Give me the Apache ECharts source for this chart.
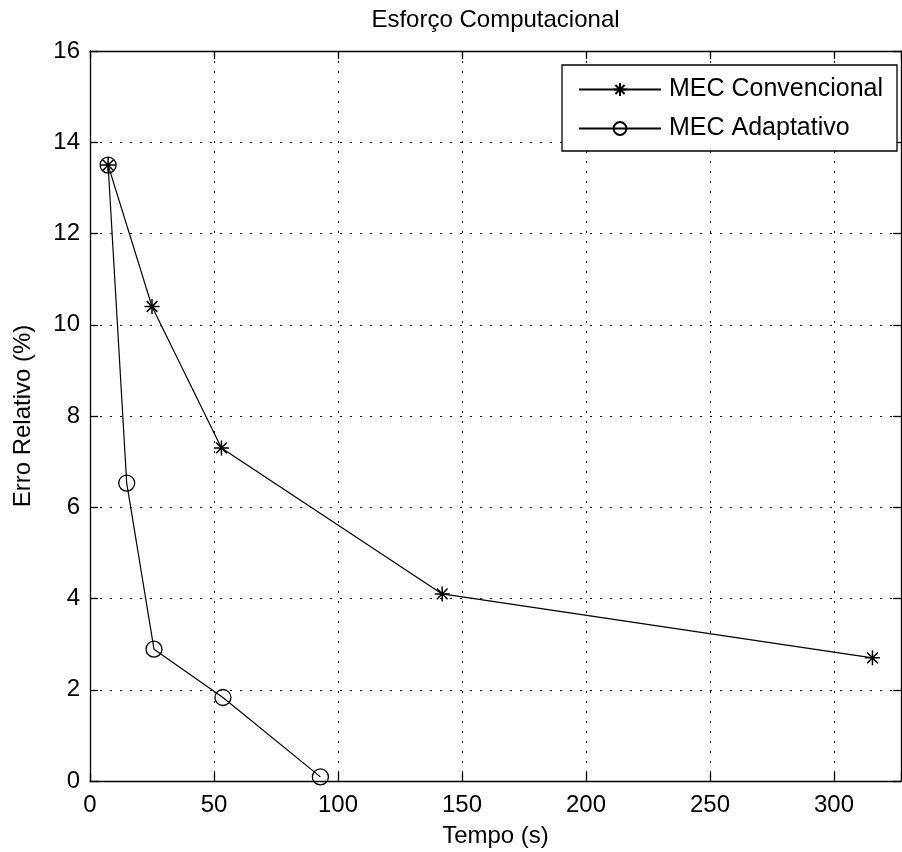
<!DOCTYPE html>
<html>
<head>
<meta charset="utf-8">
<script src="https://cdn.jsdelivr.net/npm/echarts@6/dist/echarts.min.js"></script>
<style>html,body{margin:0;padding:0;background:#fff}#c{width:902px;height:852px}</style>
</head>
<body>
<div id="c"></div>
<script>
var titleText = 'Esforço Computacional';
var xName = 'Tempo (s)';
var yName = 'Erro Relativo (%)';
var seriesNames = ['MEC Convencional', 'MEC Adaptativo'];
var convX = [7.3, 25, 53, 142, 315.5];
var convY = [13.5, 10.4, 7.3, 4.1, 2.7];
var adapX = [7.3, 14.8, 25.8, 53.6, 92.9];
var adapY = [13.5, 6.53, 2.89, 1.83, 0.09];
var xTicks = [0, 50, 100, 150, 200, 250, 300];
var yTicks = [0, 2, 4, 6, 8, 10, 12, 14, 16];
var xMin = 0, xMax = 327, yMin = 0, yMax = 16;

function pairs(xs, ys) { return xs.map(function (x, i) { return [x, ys[i]]; }); }

var FONT = 'Liberation Sans, Arial, sans-serif';
var FS = 24;
var starPath = 'path://M0,-7L0,7M-7,0L7,0M-5,-5L5,5M-5,5L5,-5';

var chart = echarts.init(document.getElementById('c'), null, {renderer: 'canvas'});
var axisBase = {
  type: 'value',
  axisLine: {show: true, onZero: false, lineStyle: {color: '#000', width: 1.3}},
  axisTick: {show: true, inside: true, length: 8, lineStyle: {color: '#000', width: 1.3}},
};
chart.setOption({
  animation: false,
  backgroundColor: '#fff',
  grid: {left: 90, top: 51, right: 1, bottom: 71, containLabel: false, outerBoundsMode: 'none'},
  legend: {
    orient: 'vertical', right: 5, top: 65,
    data: seriesNames,
    backgroundColor: '#fff', borderColor: '#000', borderWidth: 1.3,
    padding: [12, 14, 10, 16],
    itemWidth: 82, itemHeight: 16, itemGap: 14,
    textStyle: {fontFamily: FONT, fontSize: 25, color: '#000', padding: [0, 0, 0, 3]}
  },
  xAxis: [
    Object.assign({}, axisBase, {
      min: xMin, max: xMax, interval: 50, position: 'bottom',
      name: xName, nameLocation: 'middle', nameGap: 43,
      nameTextStyle: {fontFamily: FONT, fontSize: FS, color: '#000'},
      axisLabel: {fontFamily: FONT, fontSize: FS, color: '#000', margin: 12,
        formatter: function (v) { return xTicks.indexOf(v) >= 0 ? String(v) : ''; }},
      splitLine: {show: true, lineStyle: {color: '#000', width: 1, type: [2, 8]}}
    }),
    Object.assign({}, axisBase, {
      min: xMin, max: xMax, interval: 50, position: 'top',
      name: titleText, nameLocation: 'middle', nameGap: 19,
      nameTextStyle: {fontFamily: FONT, fontSize: FS, color: '#000'},
      axisLabel: {show: false}, splitLine: {show: false}
    })
  ],
  yAxis: [
    Object.assign({}, axisBase, {
      min: yMin, max: yMax, interval: 2, position: 'left',
      name: yName, nameLocation: 'middle', nameGap: 55,
      nameTextStyle: {fontFamily: FONT, fontSize: FS, color: '#000'},
      axisLabel: {fontFamily: FONT, fontSize: FS, color: '#000', margin: 10,
        formatter: function (v) { return yTicks.indexOf(v) >= 0 ? String(v) : ''; }},
      splitLine: {show: true, lineStyle: {color: '#000', width: 1, type: [2, 8]}}
    }),
    Object.assign({}, axisBase, {
      min: yMin, max: yMax, interval: 2, position: 'right',
      axisLabel: {show: false}, splitLine: {show: false}
    })
  ],
  series: [
    {
      name: seriesNames[1], type: 'line', xAxisIndex: 0, yAxisIndex: 0,
      data: pairs(adapX, adapY),
      symbol: 'circle', symbolSize: 16,
      lineStyle: {color: '#000', width: 1.2},
      itemStyle: {color: 'rgba(0,0,0,0)', borderColor: '#000', borderWidth: 1.3}
    },
    {
      name: seriesNames[0], type: 'line', xAxisIndex: 0, yAxisIndex: 0,
      data: pairs(convX, convY),
      symbol: starPath, symbolSize: 15,
      lineStyle: {color: '#000', width: 1.2},
      itemStyle: {color: '#000', borderColor: '#000', borderWidth: 1.5}
    }
  ]
});
</script>
</body>
</html>
